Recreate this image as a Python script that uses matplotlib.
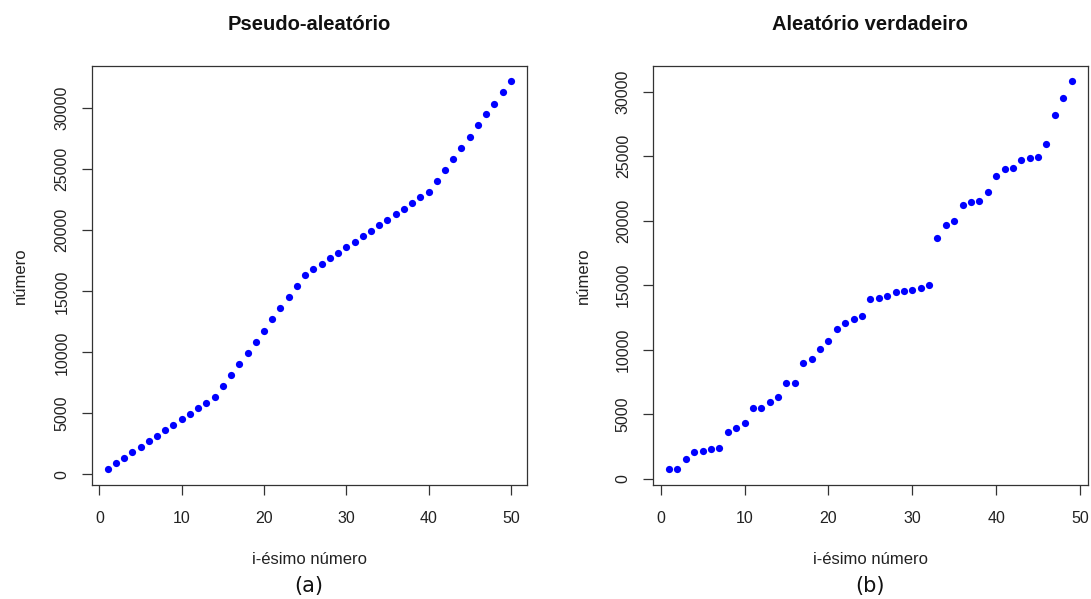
import matplotlib
matplotlib.use("Agg")
import matplotlib.pyplot as plt
import numpy as np

plt.rcParams["font.family"] = ["Liberation Sans", "DejaVu Sans"]

# valores (ordenados)
pseudo = [410, 900, 1330, 1820, 2230, 2720, 3160, 3620, 4060, 4520,
          4950, 5440, 5880, 6340, 7260, 8160, 9060, 9980, 10880, 11780,
          12700, 13600, 14500, 15420, 16320, 16810, 17250, 17710, 18140, 18600,
          19040, 19500, 19940, 20430, 20860, 21330, 21760, 22220, 22690, 23150,
          24050, 24970, 25870, 26770, 27660, 28590, 29490, 30380, 31310, 32210]

verdadeiro = [720, 720, 1570, 2090, 2170, 2270, 2350, 3660, 3920, 4360,
              5470, 5470, 5950, 6310, 7420, 7420, 8970, 9300, 10080, 10700,
              11600, 12090, 12400, 12600, 13920, 13990, 14200, 14460, 14560, 14660,
              14790, 15000, 18680, 19690, 20000, 21240, 21440, 21520, 22240, 23450,
              24020, 24120, 24690, 24890, 24970, 25920, 28220, 29530, 30820]

titles = ["Pseudo-aleatório", "Aleatório verdadeiro"]
captions = ["(a)", "(b)"]

W, H = 1091, 599
fig = plt.figure(figsize=(W / 100, H / 100), dpi=100)

boxes = [(91.5, 65.7, 527, 485), (653, 65.7, 1087.7, 485)]
ylab_x = [20, 583]


def r_lim(vals):
    # limites como no R (4% de margem)
    lo, hi = min(vals), max(vals)
    d = (hi - lo) * 0.04
    return lo - d, hi + d


for i, data in enumerate([pseudo, verdadeiro]):
    x0, y0, x1, y1 = boxes[i]
    ax = fig.add_axes([x0 / W, 1 - y1 / H, (x1 - x0) / W, (y1 - y0) / H])
    xs = np.arange(1, len(data) + 1)
    ax.plot(xs, data, "o", color="#0000ff", markersize=5.2, markeredgewidth=0)
    ax.set_xlim(*r_lim(xs))
    ax.set_ylim(*r_lim(data))
    ax.set_xticks(range(0, 51, 10))
    ax.set_yticks(range(0, 30001, 5000))
    ax.tick_params(direction="out", length=7.5, width=0.9, color="#333333",
                   labelsize=11.5, labelcolor="#222222")
    ax.tick_params(axis="x", pad=11.5)
    ax.tick_params(axis="y", pad=8.5)
    for lab in ax.get_yticklabels():
        lab.set_rotation(90)
        lab.set_va("center")
    for sp in ax.spines.values():
        sp.set_color("#333333")
        sp.set_linewidth(0.9)

    cx = (x0 + x1) / 2
    cy = (y0 + y1) / 2
    fig.text(cx / W, 1 - 25 / H, titles[i], ha="center", va="center",
             fontsize=14.5, fontweight="bold", color="#111111")
    fig.text(cx / W, 1 - 560 / H, "i-ésimo número", ha="center", va="center",
             fontsize=12, color="#222222")
    fig.text(ylab_x[i] / W, 1 - cy / H, "número", ha="center", va="center",
             rotation=90, fontsize=12, color="#222222")
    fig.text(cx / W, 1 - 586 / H, captions[i], ha="center", va="center",
             fontsize=15, family="DejaVu Sans", color="#111111")

fig.savefig("out.png", dpi=100)
